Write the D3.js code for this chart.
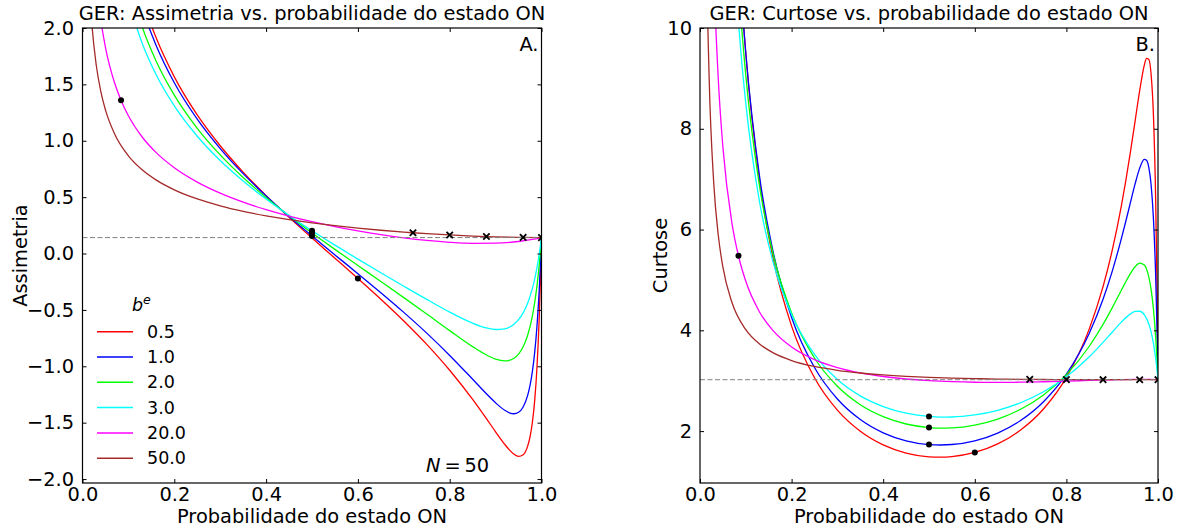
<!DOCTYPE html>
<html><head><meta charset="utf-8">
<script src="https://cdn.jsdelivr.net/npm/d3@7"></script>
<style>
body{margin:0;background:#fff;}
svg{display:block;font-family:"DejaVu Sans",sans-serif;}
</style></head><body>
<svg id="chart" width="1179" height="528"></svg>
<script>
// ---------------- data ----------------
const legendLabels = ["0.5", "1.0", "2.0", "3.0", "20.0", "50.0"];
const seriesColors = ["#ff0000", "#0000ff", "#00ff00", "#00ffff", "#ff00ff", "#a52a2a"];

const pRed = [0.07,0.09,0.1,0.13,0.16,0.2,0.25,0.3,0.35,0.4,0.45,0.5,0.525,0.55,0.6,0.65,0.7,0.75,0.8,0.85,0.88,0.9,0.92,0.93,0.94,0.95,0.96,0.97,0.975,0.98,0.985,0.99,0.995,0.998,1];
const skewRed = [null,null,2.723,2.259,1.917,1.567,1.229,0.956,0.722,0.5135,0.3207,0.1374,0.0476,-0.0417,-0.2209,-0.4047,-0.5977,-0.8056,-1.0353,-1.2942,-1.4644,-1.581,-1.6926,-1.7414,-1.7797,-1.7992,-1.7845,-1.7058,-1.6251,-1.5004,-1.3108,-1.0216,-0.5738,-0.1871,0.1414];
const kurtRed = [14.2,10.707,9.49,6.967,5.409,4.084,3.059,2.415,1.996,1.725,1.5635,1.489,1.482,1.494,1.576,1.7457,2.021,2.439,3.0656,4.029,4.867,5.585,6.471,6.987,7.552,8.153,8.756,9.258,9.396,9.377,9.078,8.276,6.548,4.735,3.02];

const pBlue = pRed;
const skewBlue = [null,null,2.624,2.1787,1.850,1.5149,1.1915,0.9307,0.7082,0.5101,0.3278,0.1552,0.0711,-0.0122,-0.1785,-0.3471,-0.5218,-0.7061,-0.9037,-1.115,-1.2437,-1.3242,-1.3904,-1.4122,-1.4207,-1.4079,-1.3608,-1.256,-1.1697,-1.0498,-0.8838,-0.6526,-0.3267,-0.0671,0.1414];
const kurtBlue = [14.09,10.69,9.505,7.057,5.544,4.256,3.2615,2.636,2.229,1.966,1.808,1.733,1.7245,1.734,1.807,1.961,2.209,2.582,3.129,3.941,4.6165,5.171,5.819,6.175,6.543,6.905,7.219,7.394,7.3745,7.228,6.883,6.222,5.050,3.967,3.02];

const pGreen = [0.07,0.09,0.1,0.13,0.16,0.2,0.25,0.3,0.35,0.4,0.45,0.5,0.525,0.55,0.6,0.65,0.7,0.75,0.8,0.85,0.88,0.9,0.92,0.93,0.94,0.95,0.96,0.97,0.98,0.985,0.99,0.995,0.998,1];
const skewGreen = [null,null,2.418,2.0102,1.710,1.4045,1.1105,0.8744,0.6739,0.4965,0.3344,0.1824,0.1089,0.0366,-0.1061,-0.248,-0.391,-0.5365,-0.6836,-0.8258,-0.8994,-0.9357,-0.9515,-0.9465,-0.9283,-0.8914,-0.8274,-0.723,-0.5567,-0.4397,-0.2914,-0.1022,0.0364,0.1414];
const kurtGreen = [13.18,10.124,9.059,6.86,5.5,4.344,3.4504,2.889,2.523,2.2855,2.141,2.071,2.0597,2.064,2.1197,2.2396,2.433,2.718,3.121,3.684,4.117,4.446,4.796,4.969,5.13,5.261,5.335,5.298,5.057,4.808,4.426,3.857,3.394,3.02];

const pCyan = [0.07,0.08,0.09,0.1,0.13,0.16,0.2,0.25,0.3,0.35,0.4,0.45,0.5,0.525,0.55,0.6,0.65,0.7,0.75,0.8,0.85,0.88,0.9,0.92,0.94,0.95,0.96,0.97,0.98,0.985,0.99,0.995,0.998,1];
const skewCyan = [null,null,null,2.240,1.865,1.5893,1.3088,1.040,0.8248,0.6428,0.4827,0.3375,0.2023,0.1375,0.0741,-0.0497,-0.1707,-0.2898,-0.4069,-0.5192,-0.6175,-0.6598,-0.6736,-0.6673,-0.6269,-0.5866,-0.5264,-0.4385,-0.3118,-0.2285,-0.128,-0.0065,0.0787,0.1414];
const kurtCyan = [12.155,10.63,9.446,8.5,6.547,5.341,4.315,3.522,3.0237,2.6985,2.487,2.357,2.291,2.2789,2.28,2.32,2.413,2.563,2.78,3.0786,3.474,3.76,3.963,4.163,4.327,4.375,4.379,4.3105,4.124,3.964,3.741,3.4353,3.2013,3.02];

const pMagenta = [0.01,0.02,0.03,0.04,0.05,0.07,0.085,0.1,0.13,0.16,0.2,0.25,0.3,0.35,0.4,0.45,0.5,0.55,0.6,0.65,0.7,0.75,0.8,0.85,0.9,0.95,0.98,1];
const skewMagenta = [4.27,2.9875,2.4134,2.0676,1.8292,1.5118,1.3486,1.2216,1.0333,0.8969,0.7607,0.6336,0.5354,0.4558,0.389,0.3318,0.282,0.2384,0.2002,0.167,0.1389,0.1161,0.0996,0.0907,0.0918,0.1067,0.1246,0.1414];
const kurtMagenta = [29.06,15.67,11.2,8.973,7.636,6.111,5.4405,4.9725,4.364,3.988,3.668,3.4194,3.2614,3.1558,3.0834,3.0338,3.0008,2.98,2.9694,2.9666,2.9702,2.979,2.9915,3.0058,3.0192,3.0268,3.0253,3.02];

const pBrown = [0.005,0.01,0.015,0.02,0.03,0.04,0.05,0.07,0.1,0.13,0.16,0.2,0.25,0.3,0.35,0.4,0.45,0.5,0.55,0.6,0.65,0.7,0.72,0.75,0.8,0.85,0.88,0.9,0.95,0.96,1];
const skewBrown = [4.166,2.935,2.3876,2.06,1.6695,1.435,1.2738,1.0603,0.8666,0.7422,0.6529,0.5649,0.4841,0.4229,0.3742,0.3341,0.3004,0.2716,0.2467,0.2251,0.2064,0.1901,0.1843,0.1763,0.1646,0.1552,0.1507,0.1481,0.1435,0.1428,0.1414];
const kurtBrown = [27.75,15.25,11.087,9.004,6.922,5.881,5.253,4.546,4.013,3.7286,3.552,3.4008,3.2823,3.2056,3.1529,3.1154,3.0879,3.0676,3.0525,3.0413,3.0332,3.0276,3.0258,3.0237,3.0214,3.0202,3.0199,3.0198,3.0198,3.02,3.02];

// black dots (filled) and crosses
const dotP = [0.084, 0.5, 0.5, 0.5, 0.6];
const dotSkew = [1.36, 0.1552, 0.1824, 0.2023, -0.2209];
const dotKurt = [5.48, 1.733, 2.071, 2.291, 1.576];
const crossP = [0.72, 0.8, 0.88, 0.96, 1.0];
const crossSkew = [0.1843, 0.1646, 0.1507, 0.1428, 0.1414];
const crossKurt = [3.0258, 3.0214, 3.0199, 3.0198, 3.02];

const refSkew = 0.1414;   // dashed reference line
const refKurt = 3.02;

const xTicks = [0, 0.2, 0.4, 0.6, 0.8, 1.0];
const skewTicks = [-2.0, -1.5, -1.0, -0.5, 0.0, 0.5, 1.0, 1.5, 2.0];
const kurtTicks = [2, 4, 6, 8, 10];

// ---------------- drawing ----------------
const series = [
  {p: pRed, skew: skewRed, kurt: kurtRed},
  {p: pBlue, skew: skewBlue, kurt: kurtBlue},
  {p: pGreen, skew: skewGreen, kurt: kurtGreen},
  {p: pCyan, skew: skewCyan, kurt: kurtCyan},
  {p: pMagenta, skew: skewMagenta, kurt: kurtMagenta},
  {p: pBrown, skew: skewBrown, kurt: kurtBrown}
];

const svg = d3.select("#chart");
const FS = 19.4;

const panels = [
  {key: "skew", x0: 82.5, x1: 541.5, y0: 28, y1: 483, ydom: [-2.035, 2], yticks: skewTicks,
   fmt: d3.format(".1f"), title: "GER: Assimetria vs. probabilidade do estado ON",
   ylabel: "Assimetria", ylabX: 27, ref: refSkew, tag: "A.", dots: dotSkew, crosses: crossSkew, pad: 8.5},
  {key: "kurt", x0: 700, x1: 1158, y0: 28, y1: 483, ydom: [0.97, 10], yticks: kurtTicks,
   fmt: d3.format("d"), title: "GER: Curtose vs. probabilidade do estado ON",
   ylabel: "Curtose", ylabX: 667, ref: refKurt, tag: "B.", dots: dotKurt, crosses: crossKurt, pad: 8}
];

panels.forEach((P, pi) => {
  const x = d3.scaleLinear().domain([0, 1]).range([P.x0, P.x1]);
  const y = d3.scaleLinear().domain(P.ydom).range([P.y1, P.y0]);
  const clipId = "clip" + pi;
  svg.append("clipPath").attr("id", clipId).append("rect")
    .attr("x", P.x0).attr("y", P.y0).attr("width", P.x1 - P.x0).attr("height", P.y1 - P.y0);

  const g = svg.append("g").attr("clip-path", `url(#${clipId})`);
  const line = d3.line().x(d => x(d[0])).y(d => y(d[1])).curve(d3.curveMonotoneX);

  series.forEach((s, si) => {
    const vals = s[P.key];
    const data = s.p.map((pp, i) => [pp, vals[i]]).filter(d => d[1] !== null);
    g.append("path").datum(data).attr("d", line)
      .attr("fill", "none").attr("stroke", seriesColors[si]).attr("stroke-width", 1.3);
  });

  g.append("line").attr("x1", P.x0).attr("x2", P.x1)
    .attr("y1", y(P.ref)).attr("y2", y(P.ref))
    .attr("stroke", "#808080").attr("stroke-width", 1).attr("stroke-dasharray", "5,2.5");

  g.selectAll("circle.dot").data(dotP.map((pp, i) => [pp, P.dots[i]])).enter()
    .append("circle").attr("cx", d => x(d[0])).attr("cy", d => y(d[1])).attr("r", 3).attr("fill", "#000");

  const cs = 3.2;
  g.selectAll("path.cross").data(crossP.map((pp, i) => [pp, P.crosses[i]])).enter()
    .append("path")
    .attr("d", d => {
      const cx = x(d[0]), cy = y(d[1]);
      return `M${cx - cs},${cy - cs}L${cx + cs},${cy + cs}M${cx - cs},${cy + cs}L${cx + cs},${cy - cs}`;
    })
    .attr("stroke", "#000").attr("stroke-width", 1.8).attr("fill", "none");

  // axes (ticks inward, on all four sides)
  const axB = svg.append("g").attr("transform", `translate(0,${P.y1})`)
    .call(d3.axisBottom(x).tickValues(xTicks).tickFormat(d3.format(".1f")).tickSize(-4).tickSizeOuter(0).tickPadding(4));
  const axT = svg.append("g").attr("transform", `translate(0,${P.y0})`)
    .call(d3.axisTop(x).tickValues(xTicks).tickFormat("").tickSize(-4).tickSizeOuter(0));
  const axL = svg.append("g").attr("transform", `translate(${P.x0},0)`)
    .call(d3.axisLeft(y).tickValues(P.yticks).tickFormat(P.fmt).tickSize(-4).tickSizeOuter(0).tickPadding(P.pad));
  const axR = svg.append("g").attr("transform", `translate(${P.x1},0)`)
    .call(d3.axisRight(y).tickValues(P.yticks).tickFormat("").tickSize(-4).tickSizeOuter(0));
  [axB, axT, axL, axR].forEach(a => {
    a.select(".domain").remove();
    a.selectAll("line").attr("stroke", "#000").attr("stroke-width", 1);
    a.selectAll("text").attr("font-size", FS).attr("font-family", "DejaVu Sans").attr("fill", "#000");
  });

  svg.append("rect").attr("x", P.x0).attr("y", P.y0)
    .attr("width", P.x1 - P.x0).attr("height", P.y1 - P.y0)
    .attr("fill", "none").attr("stroke", "#000").attr("stroke-width", 1.2);

  const cx = (P.x0 + P.x1) / 2;
  svg.append("text").attr("x", cx).attr("y", 20).attr("text-anchor", "middle")
    .attr("font-size", FS).text(P.title);
  svg.append("text").attr("x", cx).attr("y", 523).attr("text-anchor", "middle")
    .attr("font-size", FS).text("Probabilidade do estado ON");
  svg.append("text").attr("transform", `translate(${P.ylabX},${(P.y0 + P.y1) / 2}) rotate(-90)`)
    .attr("text-anchor", "middle").attr("font-size", FS).text(P.ylabel);
  svg.append("text").attr("x", P.x1 - 3).attr("y", 51).attr("text-anchor", "end")
    .attr("font-size", FS).text(P.tag);
});

// legend (left panel)
const lg = svg.append("g");
const bt = lg.append("text").attr("x", 132).attr("y", 311).attr("font-size", 17.5);
bt.append("tspan").attr("font-style", "italic").text("b");
bt.append("tspan").attr("font-style", "italic").attr("font-size", 12.5).attr("dy", -7).text("e");
legendLabels.forEach((lab, i) => {
  const yy = 331.7 + i * 25.3;
  lg.append("line").attr("x1", 97).attr("x2", 133).attr("y1", yy).attr("y2", yy)
    .attr("stroke", seriesColors[i]).attr("stroke-width", 1.5);
  lg.append("text").attr("x", 147).attr("y", yy).attr("dy", "0.35em")
    .attr("font-size", 17.5).text(lab);
});

// N = 50 annotation
const nt = svg.append("text").attr("x", 426).attr("y", 472).attr("font-size", FS);
nt.append("tspan").attr("font-style", "italic").text("N");
nt.append("tspan").text("\u2009=\u200950");
</script>
</body></html>
